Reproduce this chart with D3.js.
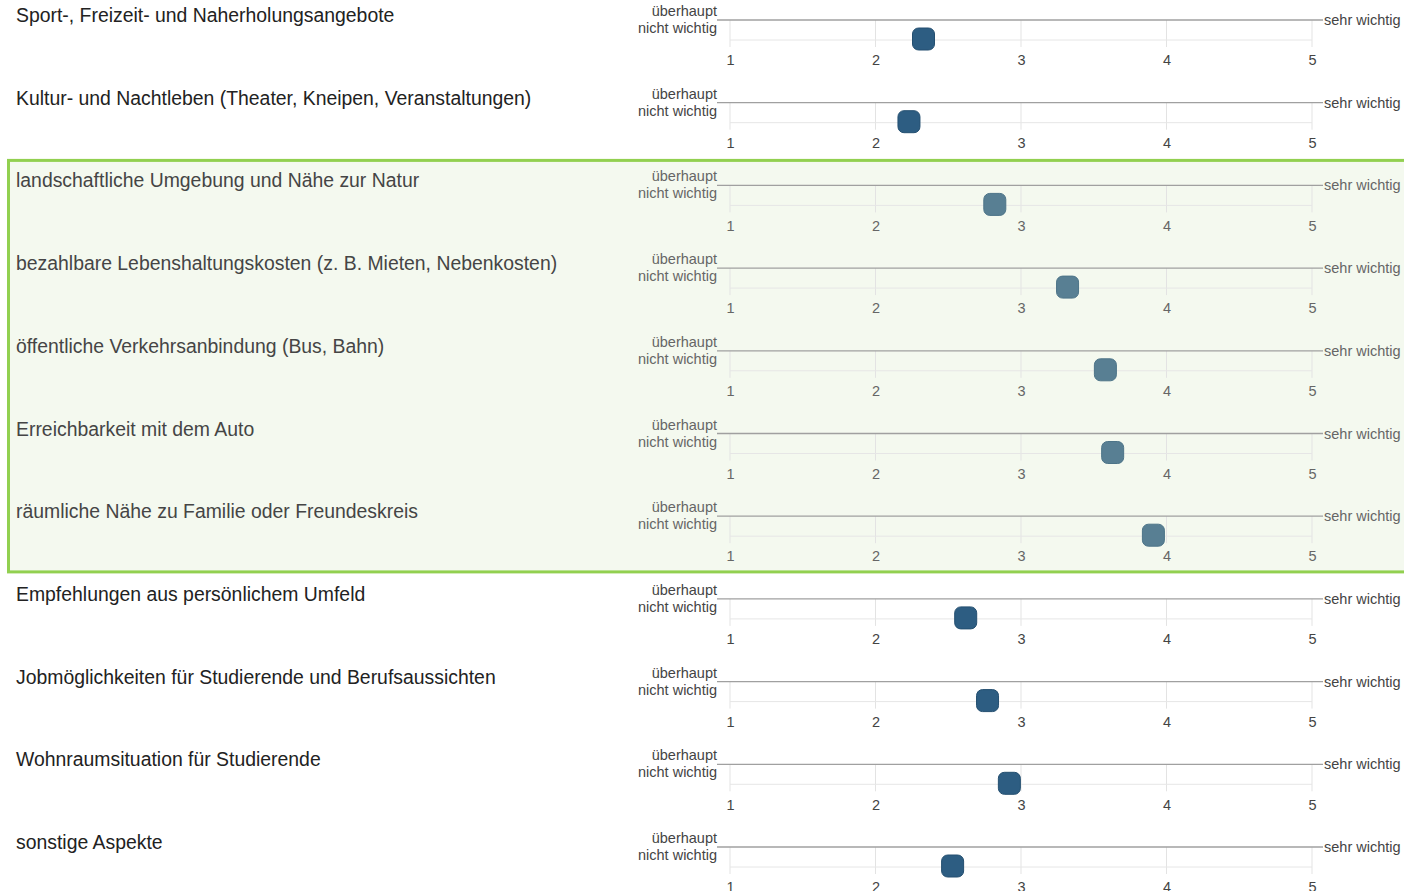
<!DOCTYPE html>
<meta charset="utf-8">
<style>
body { margin: 0; background: #fff; font-family: "Liberation Sans", Arial, sans-serif; }
.item { font-size: 19.4px; fill: #222; }
.hl .item { fill: #454545; }
.lo, .hi { font-size: 14.5px; fill: #444; }
.hl .lo, .hl .hi { fill: #666; }
.tick text { font-size: 14.5px; fill: #444; }
.hl .tick text { fill: #666; }
</style>
<body>
<script src="https://cdn.jsdelivr.net/npm/d3@7"></script>
<script>

var items = [
  "Sport-, Freizeit- und Naherholungsangebote",
  "Kultur- und Nachtleben (Theater, Kneipen, Veranstaltungen)",
  "landschaftliche Umgebung und Nähe zur Natur",
  "bezahlbare Lebenshaltungskosten (z. B. Mieten, Nebenkosten)",
  "öffentliche Verkehrsanbindung (Bus, Bahn)",
  "Erreichbarkeit mit dem Auto",
  "räumliche Nähe zu Familie oder Freundeskreis",
  "Empfehlungen aus persönlichem Umfeld",
  "Jobmöglichkeiten für Studierende und Berufsaussichten",
  "Wohnraumsituation für Studierende",
  "sonstige Aspekte"
];
var means = [2.33, 2.23, 2.82, 3.32, 3.58, 3.63, 3.91, 2.62, 2.77, 2.92, 2.53];
var highlighted = [false, false, true, true, true, true, true, false, false, false, false];
var ticks = [1, 2, 3, 4, 5];
var lowLabel = ["überhaupt", "nicht wichtig"];
var highLabel = "sehr wichtig";

var width = 1404, height = 891;

var svg = d3.select("body").append("svg")
    .attr("width", width)
    .attr("height", height);

var x = d3.scaleLinear().domain([1, 5]).range([730, 1312]);
var y = d3.scalePoint().domain(d3.range(items.length)).range([20, 847]);
var step = y.step();

// green box behind the highlighted rows
var hlIdx = d3.range(items.length).filter(function(i) { return highlighted[i]; });
svg.append("rect")
    .attr("x", 8.5)
    .attr("y", y(hlIdx[0]) - 25)
    .attr("width", width)
    .attr("height", y(hlIdx[hlIdx.length - 1]) - y(hlIdx[0]) + step - 2)
    .attr("fill", "#f4f9ef")
    .attr("stroke", "#92d050")
    .attr("stroke-width", 3);

var rows = svg.selectAll("g.row")
    .data(items)
    .enter().append("g")
    .attr("class", function(d, i) { return highlighted[i] ? "row hl" : "row"; })
    .attr("transform", function(d, i) { return "translate(0," + y(i) + ")"; });

rows.append("text")
    .attr("class", "item")
    .attr("x", 16)
    .attr("y", 2)
    .text(function(d) { return d; });

rows.each(function(d, i) {
  var g = d3.select(this);

  // grid lines
  g.selectAll("line.grid")
      .data(ticks)
      .enter().append("line")
      .attr("x1", x).attr("x2", x)
      .attr("y1", 0).attr("y2", 27)
      .attr("stroke", "#e3e3e3");
  g.append("line")
      .attr("x1", x(1)).attr("x2", x(5))
      .attr("y1", 20).attr("y2", 20)
      .attr("stroke", "#e6e6e6");
  g.append("line")
      .attr("x1", 717).attr("x2", 1323)
      .attr("y1", 0).attr("y2", 0)
      .attr("stroke", "#a0a0a0")
      .attr("stroke-width", 1.3);

  var ax = g.append("g")
      .attr("transform", "translate(0,30)")
      .call(d3.axisBottom(x).tickValues(ticks).tickSize(0).tickPadding(5).tickFormat(d3.format("d")));
  ax.select(".domain").remove();

  g.append("text").attr("class", "lo")
      .attr("x", 717).attr("y", -4)
      .attr("text-anchor", "end")
      .text(lowLabel[0]);
  g.append("text").attr("class", "lo")
      .attr("x", 717).attr("y", 13)
      .attr("text-anchor", "end")
      .text(lowLabel[1]);
  g.append("text").attr("class", "hi")
      .attr("x", 1324).attr("y", 5)
      .text(highLabel);

  g.append("rect")
      .attr("x", x(means[i]) - 11)
      .attr("y", 8)
      .attr("width", 22)
      .attr("height", 22)
      .attr("rx", 6)
      .attr("fill", highlighted[i] ? "#587f93" : "#2d5d82")
      .attr("stroke", highlighted[i] ? "#4d7488" : "#244f70")
      .attr("stroke-width", 1);
});

</script>
</body>
